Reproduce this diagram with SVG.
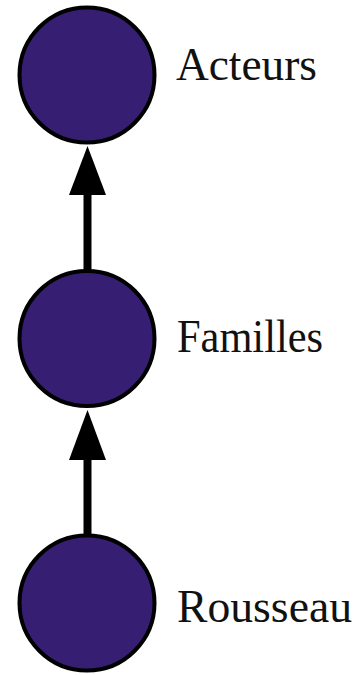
<svg xmlns="http://www.w3.org/2000/svg" width="360" height="675" viewBox="0 0 360 675">
<style>
.node{fill:#361f73;stroke:#000;stroke-width:4}
.lbl{font-family:"Liberation Serif","DejaVu Serif",serif;font-size:46px;fill:#111}
.edge{stroke:#000;stroke-width:8;fill:none}
</style>
<defs>
<marker id="ah" markerUnits="userSpaceOnUse" markerWidth="40" markerHeight="52" refX="18.5" refY="0" orient="auto-start-reverse" viewBox="0 0 37 50" overflow="visible">
<path d="M0,50 L18.5,0 L37,50 Z" fill="#000"/>
</marker>
</defs>
<rect width="360" height="675" fill="#fff"/>
<g id="connectors">
<line class="edge" x1="87.5" y1="270" x2="87.5" y2="195"/>
<path d="M69,195 L87.5,146 L106,195 Z" fill="#000"/>
<line class="edge" x1="87.5" y1="534" x2="87.5" y2="459"/>
<path d="M69,460 L87.5,410 L106,460 Z" fill="#000"/>
</g>
<g id="node-acteurs">
<circle class="node" cx="87" cy="75" r="67.5"/>
<text class="lbl" x="176" y="80" textLength="141" lengthAdjust="spacingAndGlyphs">Acteurs</text>
</g>
<g id="node-familles">
<circle class="node" cx="87" cy="338.5" r="67.5"/>
<text class="lbl" x="177" y="352" textLength="146" lengthAdjust="spacingAndGlyphs">Familles</text>
</g>
<g id="node-rousseau">
<circle class="node" cx="87" cy="603" r="67.5"/>
<text class="lbl" x="177" y="622" textLength="175" lengthAdjust="spacingAndGlyphs">Rousseau</text>
</g>
</svg>
